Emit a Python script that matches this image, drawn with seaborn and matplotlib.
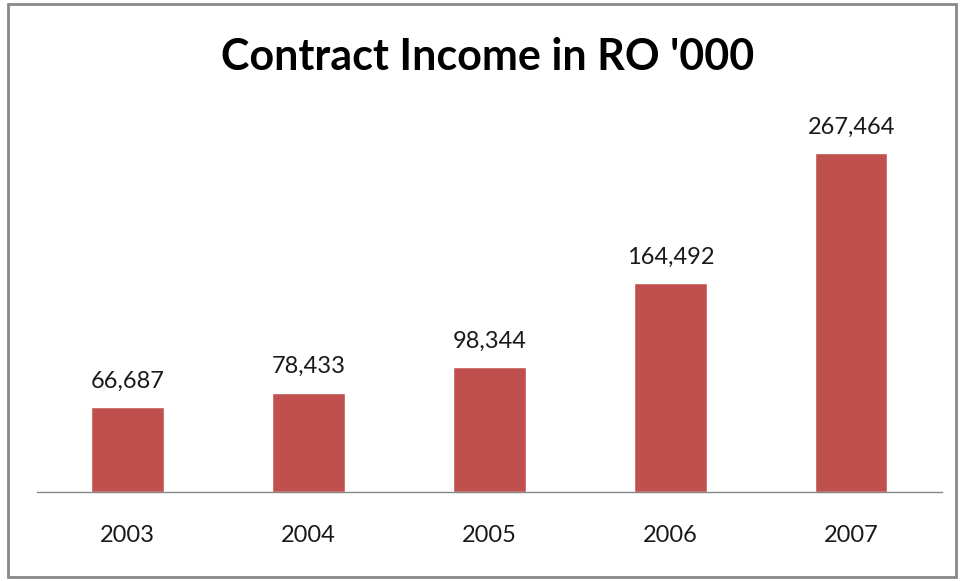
import matplotlib
matplotlib.use("Agg")
import matplotlib.pyplot as plt
import seaborn as sns
import pandas as pd
from matplotlib.patches import Rectangle

years = ["2003", "2004", "2005", "2006", "2007"]
income = [66687, 78433, 98344, 164492, 267464]

sns.set_style("white")
plt.rcParams["font.family"] = ["Lato", "DejaVu Sans"]

df = pd.DataFrame({"year": years, "income": income})

fig = plt.figure(figsize=(9.6, 5.81), dpi=100)
ax = fig.add_axes([0.0385, 0.1532, 0.9425, 0.6506])
sns.barplot(data=df, x="year", y="income", color="#C0504D", saturation=1,
            width=0.40, ax=ax)

ax.set_ylim(0, 298000)
ax.set_xlim(-0.5, 4.5)
for sp in ["top", "right", "left"]:
    ax.spines[sp].set_visible(False)
ax.spines["bottom"].set_color("#868686")
ax.spines["bottom"].set_linewidth(1.0)
ax.set_yticks([])
ax.set_xlabel("")
ax.set_ylabel("")
ax.tick_params(axis="x", length=0, pad=24, labelsize=17, colors="#1a1a1a")

for i, v in enumerate(income):
    ax.annotate(f"{v:,}", (i, v), xytext=(0, 11), textcoords="offset points",
                ha="center", va="bottom", fontsize=17, color="#1a1a1a")

fig.text(0.508, 0.902, "Contract Income in RO '000", ha="center", va="center",
         fontsize=31, fontweight="bold", color="black")

# outer chart frame
fig.patches.append(Rectangle((8 / 960, 4 / 581), 948 / 960, 573 / 581,
                             transform=fig.transFigure, fill=False,
                             edgecolor="#888888", linewidth=2))

fig.savefig("out.png", dpi=100)
